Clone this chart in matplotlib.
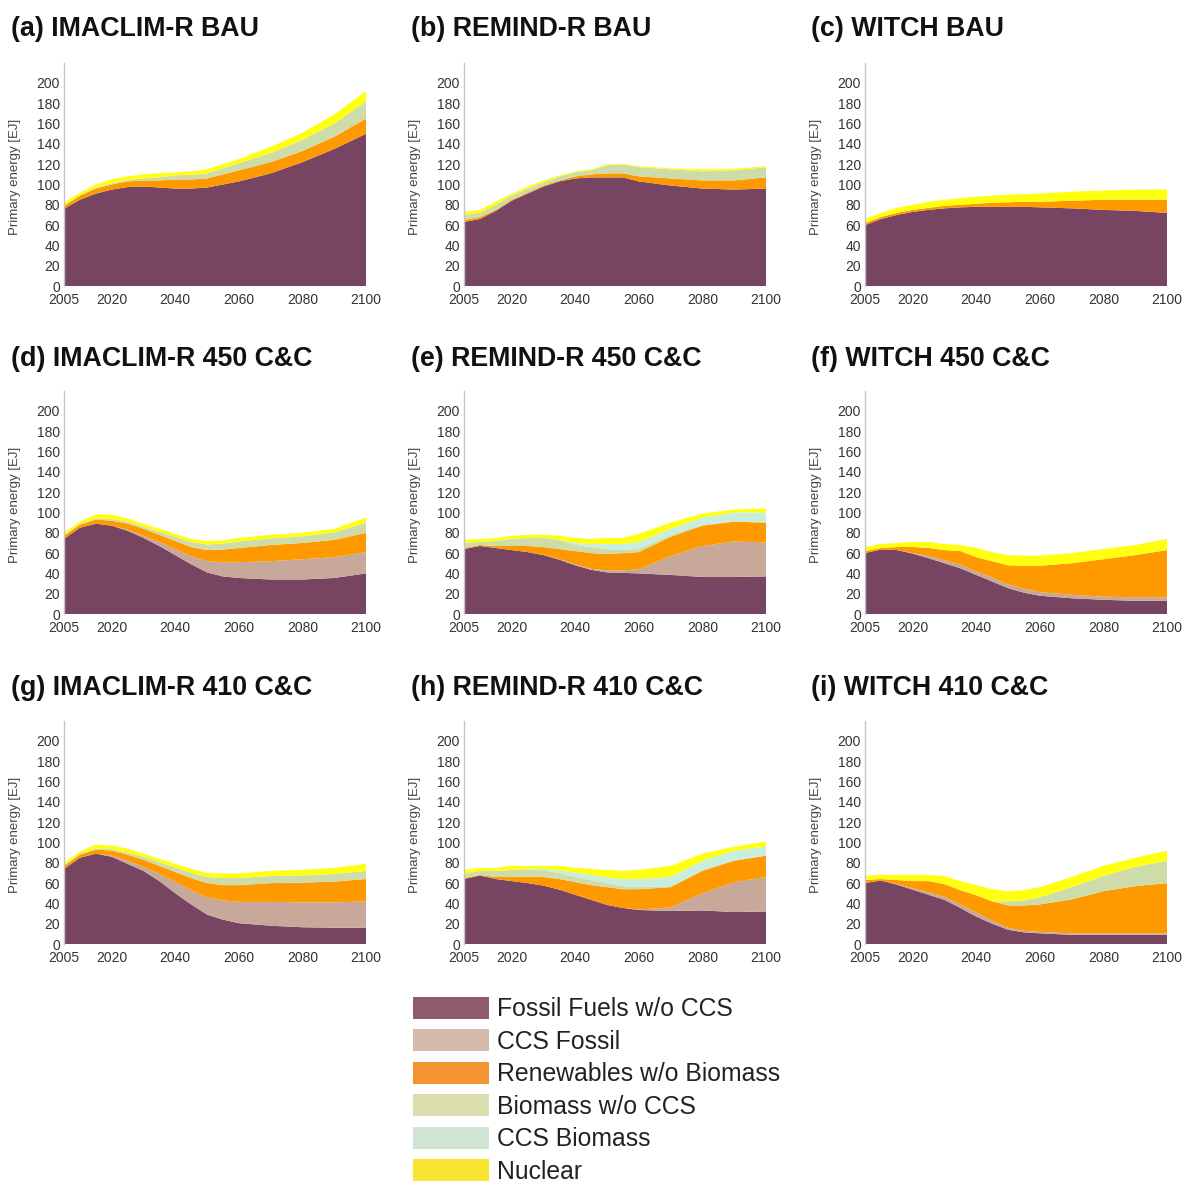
import matplotlib
matplotlib.use("Agg")
import matplotlib.pyplot as plt
from matplotlib.patches import Patch

plt.rcParams['font.family'] = ['Liberation Sans', 'DejaVu Sans']

years = [2005, 2010, 2015, 2020, 2025, 2030, 2035, 2040, 2045, 2050, 2055, 2060, 2070, 2080, 2090, 2100]

series = ["Fossil Fuels w/o CCS", "CCS Fossil", "Renewables w/o Biomass",
          "Biomass w/o CCS", "CCS Biomass", "Nuclear"]

# layer thicknesses [EJ]: fossil, CCS fossil, renewables, biomass, CCS biomass, nuclear
imaclim_bau = [
    [76, 85, 91, 95, 97.5, 98, 97, 96, 96, 97, 100, 103, 111, 122, 135, 150],
    [0, 0, 0, 0, 0, 0, 0, 0, 0, 0, 0, 0, 0, 0, 0, 0],
    [3, 4, 5, 5, 5.5, 6, 7, 9, 9, 9, 10, 11, 11, 11, 12, 15],
    [0, 0.5, 1, 1, 1.5, 2, 3, 4, 4.5, 5, 6, 7, 9, 11, 13, 17],
    [0, 0, 0, 0, 0, 0, 0, 0, 0, 0, 0, 0, 0, 0, 0, 0],
    [3, 2.5, 3, 4, 3.5, 4, 4, 3, 3.5, 4, 4, 4, 6, 7, 9, 10],
]
remind_bau = [
    [63, 66, 74, 84, 91, 98, 103, 106, 107, 107, 107, 103, 99, 96, 95, 96],
    [0, 0, 0, 0, 0, 0, 0, 0, 0, 0, 0, 0, 0, 0, 0, 0],
    [2, 2, 1, 1, 1, 1, 1, 2, 3, 4, 4, 5, 7, 8, 9, 11],
    [5, 4, 5, 4, 4, 3, 4, 4, 4, 8, 9, 9, 9, 9, 10, 10],
    [0, 0, 0, 0, 0, 0, 0, 0, 0, 0, 0, 0, 0, 0, 0, 0],
    [3, 3, 3, 2, 2, 2, 1, 1, 1, 1, 0.5, 1, 1, 2, 1.5, 1],
]
witch_bau = [
    [60, 66, 70, 73, 75, 76.5, 77.5, 78, 78, 78, 78, 77.5, 76.5, 75, 74, 72],
    [0, 0, 0, 0, 0, 0, 0, 0, 0, 0, 0, 0, 0, 0, 0, 0],
    [2, 2, 2, 2, 2, 2.5, 2.5, 3, 4, 4.5, 5, 5.5, 7.5, 10, 11, 13],
    [0, 0, 0, 0, 0, 0, 0, 0, 0, 0, 0, 0, 0, 0, 0, 0],
    [0, 0, 0, 0, 0, 0, 0, 0, 0, 0, 0, 0, 0, 0, 0, 0],
    [4, 4, 5, 5, 6, 6, 6.5, 7, 7, 7.5, 7.5, 8, 9, 9, 10, 10],
]
imaclim_450 = [
    [74, 85, 89, 87, 82, 75, 67, 58, 49, 41, 37, 35.5, 34, 34, 35.5, 40],
    [0, 0, 0, 0, 1, 2, 4, 6, 8, 11, 14, 15.5, 18, 20, 20.5, 21],
    [3, 3, 4, 5, 6, 7, 7, 8, 9, 11, 12.5, 14, 16, 16, 17, 19],
    [0.5, 0.5, 1, 1.5, 2, 2, 3, 4, 5, 5.5, 6, 6.5, 6.5, 6.5, 7.5, 10],
    [0, 0, 0, 0, 0, 0, 0, 0, 0, 0, 0, 0, 0, 0, 0, 0],
    [2.5, 2.5, 4, 4.5, 3, 3, 3, 3, 3, 3.5, 3, 3.5, 3.5, 3.5, 3.5, 5],
]
remind_450 = [
    [64, 67, 65, 63, 61, 58, 53.5, 48, 43.5, 41, 40.5, 40, 38.5, 36.5, 36.5, 37],
    [0, 0, 0, 0, 0, 0, 0.5, 1, 1, 2, 2.5, 4, 18.5, 30.5, 35, 33.5],
    [1, 1, 2, 4, 6, 8, 10, 13, 15.5, 16, 17, 17, 19, 20, 19.5, 19.5],
    [5, 3, 5, 7, 8, 9, 9, 6, 6, 5, 3, 3, 2, 1, 0, 0],
    [0, 0, 0, 0, 0, 0, 0, 2, 3, 5, 6, 7, 6, 7, 9, 10],
    [3, 3, 3, 3, 3, 3, 4, 5, 5, 6, 6, 8, 6, 4, 3, 4],
]
witch_450 = [
    [60, 63.5, 63, 59.5, 55, 50, 45, 38.5, 32, 25.5, 21, 18, 15.5, 14, 13, 13],
    [0, 0, 0, 0.5, 2, 3, 3.5, 3.5, 4, 3.5, 4, 3.5, 3.5, 3, 3.5, 3.5],
    [2, 1.5, 3, 6, 8, 10, 13.5, 14, 16, 19, 22.5, 26, 31, 37, 41.5, 46.5],
    [0, 0, 0, 0, 0, 0, 0, 0, 0, 0, 0, 0, 0, 0, 0, 0],
    [0, 0, 0, 0, 0, 0, 0, 0, 0, 0, 0, 0, 0, 0, 0, 0],
    [4, 4, 4, 5, 6, 6, 6, 9, 9, 10, 10, 10, 10, 10, 10, 11],
]
imaclim_410 = [
    [74, 85, 89, 86, 79, 72, 62, 50, 39, 29, 24, 20.5, 18, 16.5, 16, 16],
    [0, 0, 0, 1, 3, 4, 7, 11, 14, 17, 19, 21, 23.5, 24.5, 25, 26],
    [3, 3, 4, 5, 6, 7, 8, 10, 12, 14, 15, 16.5, 18.5, 19.5, 20.5, 22],
    [0.5, 1, 1, 1.5, 2, 3, 3.5, 4.5, 5, 6, 7, 7, 7, 7, 7.5, 8],
    [0, 0, 0, 0, 0, 0, 0, 0, 0, 0, 0, 0, 0, 0, 0, 0],
    [2.5, 2, 4, 3.5, 4, 3, 3.5, 3.5, 4, 4, 4.5, 4.5, 5, 5.5, 6, 7],
]
remind_410 = [
    [64, 67.5, 64, 62, 60, 57.5, 53.5, 48.5, 43.5, 38.5, 35.5, 33.5, 32.5, 33, 31.5, 32],
    [0, 0, 0, 0, 0, 0, 0, 0, 0, 0, 0, 0.5, 3.5, 17, 29.5, 34],
    [1, 0.5, 2, 4, 6.5, 8.5, 10.5, 12.5, 14.5, 17.5, 18.5, 20, 20, 22, 21, 21],
    [4, 4, 6, 7, 7, 6.5, 6, 5, 5, 4, 3, 2, 1, 1, 1, 0],
    [0, 0, 0, 0, 0.5, 1.5, 2.5, 4.5, 5, 5.5, 7, 8, 9, 9, 9, 9],
    [4, 3, 3, 4, 3, 3, 4.5, 4.5, 6, 7.5, 8, 9, 11, 7, 4, 5],
]
witch_410 = [
    [60, 62.5, 58.5, 53.5, 48.5, 43.5, 35.5, 27, 20, 14, 11.5, 10.5, 9, 9, 9, 9],
    [0, 0, 0.5, 1.5, 2.5, 3, 3.5, 4, 3, 2, 1.5, 1.5, 1.5, 1.5, 1.5, 1.5],
    [3, 1.5, 4, 7, 11, 12.5, 14, 17, 19, 22, 25, 27, 33.5, 41.5, 46.5, 49.5],
    [0, 0, 0, 0, 0, 0, 0, 0, 0, 4, 5, 7, 12, 15, 19, 22],
    [0, 0, 0, 0, 0, 0, 0, 0, 0, 0, 0, 0, 0, 0, 0, 0],
    [4, 4.5, 5, 6, 6, 8, 9, 10, 12, 10, 10, 10, 10, 10, 9, 10],
]

titles = ["(a) IMACLIM-R BAU", "(b) REMIND-R BAU", "(c) WITCH BAU",
          "(d) IMACLIM-R 450 C&C", "(e) REMIND-R 450 C&C", "(f) WITCH 450 C&C",
          "(g) IMACLIM-R 410 C&C", "(h) REMIND-R 410 C&C", "(i) WITCH 410 C&C"]
panels = [imaclim_bau, remind_bau, witch_bau,
          imaclim_450, remind_450, witch_450,
          imaclim_410, remind_410, witch_410]

area_colors = ["#774462", "#C8A899", "#FF9900", "#CEDCAA", "#C9EEDD", "#FFFF10"]
legend_colors = ["#8E5B6F", "#D4BBAE", "#F29432", "#DCDDB1", "#D0E4D4", "#F9E431"]

xticks = [2005, 2020, 2040, 2060, 2080, 2100]
yticks = [0, 20, 40, 60, 80, 100, 120, 140, 160, 180, 200]

W, H = 1183, 1182
fig = plt.figure(figsize=(W / 100, H / 100), dpi=100)

col_left = [64, 464, 865]
row_base = [286, 614, 944]
title_base = [36, 366, 695]
title_x = [11, 411, 811]
ax_w, ax_h = 302, 223.3

for i, (data, title) in enumerate(zip(panels, titles)):
    r, c = divmod(i, 3)
    ax = fig.add_axes([col_left[c] / W, 1 - row_base[r] / H, ax_w / W, ax_h / H])
    ax.stackplot(years, *data, colors=area_colors, linewidth=0)
    ax.set_xlim(2005, 2100)
    ax.set_ylim(0, 220)
    ax.set_xticks(xticks)
    ax.set_yticks(yticks)
    ax.tick_params(length=0, labelsize=10, colors="#333333")
    ax.tick_params(axis="y", pad=3)
    ax.tick_params(axis="x", pad=5)
    for s in ["top", "right", "bottom"]:
        ax.spines[s].set_visible(False)
    ax.spines["left"].set_color("#c4c4c4")
    ax.spines["left"].set_linewidth(1.0)
    ax.set_ylabel("Primary energy [EJ]", fontsize=9.5, color="#444444")
    ax.yaxis.set_label_coords(-0.142, 0.49)
    ax.patch.set_alpha(0)
    fig.text(title_x[c] / W, 1 - title_base[r] / H, title, fontsize=19.3,
             fontweight="bold", ha="left", va="baseline", color="#111111")

handles = [Patch(facecolor=col, edgecolor="none") for col in legend_colors]
fig.legend(handles, series, loc="upper left",
           bbox_to_anchor=(413 / W, 1 - 997 / H), frameon=False,
           fontsize=17.8, handlelength=3.08, handleheight=0.97,
           handletextpad=0.32, labelspacing=0.33, borderpad=0,
           borderaxespad=0, labelcolor="#222222")

fig.savefig("out.png", dpi=100)
